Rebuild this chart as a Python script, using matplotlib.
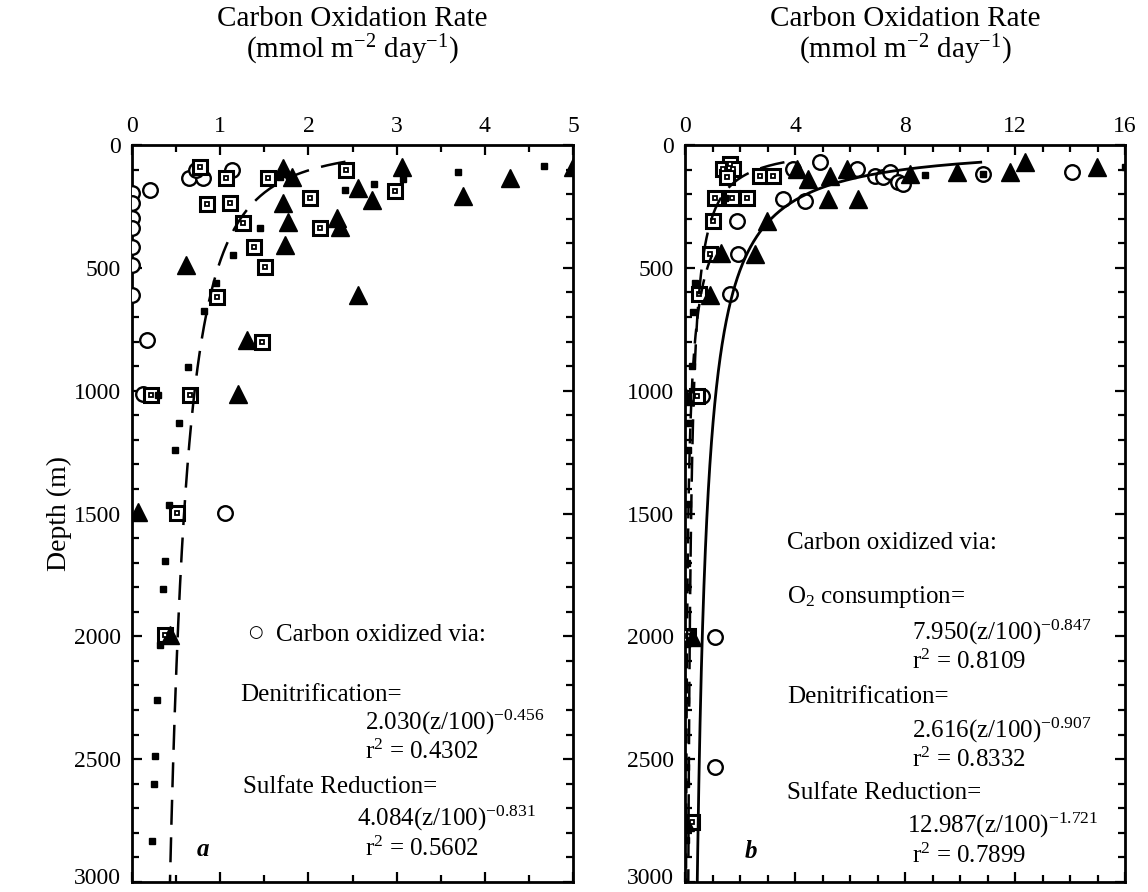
import numpy as np
import matplotlib
matplotlib.use("Agg")
import matplotlib.pyplot as plt
from matplotlib.ticker import MultipleLocator
from matplotlib.transforms import ScaledTranslation

plt.rcParams['font.family'] = ['Liberation Serif', 'DejaVu Serif']
plt.rcParams['mathtext.fontset'] = 'custom'
plt.rcParams['mathtext.rm'] = 'Liberation Serif'
plt.rcParams['mathtext.it'] = 'Liberation Serif:italic'
plt.rcParams['mathtext.bf'] = 'Liberation Serif:bold'

# ---------------- Panel a data ----------------
a_circ_x = [0, 0, 0, 0, 0, 0, 0, 0.2, 0.65, 0.80, 0.72, 1.13, 0.17, 0.12, 1.05]
a_circ_z = [195, 236, 297, 338, 415, 488, 610, 183, 135, 135, 100, 100, 794, 1013, 1499]

a_box_x = [0.77, 1.07, 1.54, 2.43, 2.98, 0.85, 1.11, 1.26, 2.02, 2.13, 1.38, 1.51, 0.96, 1.47, 0.66, 0.22, 0.51, 0.37]
a_box_z = [90, 135, 135, 102, 187, 240, 236, 317, 216, 338, 415, 496, 619, 800, 1018, 1018, 1498, 1995]

a_tri_x = [1.71, 1.81, 3.06, 4.29, 5.0, 2.56, 2.72, 3.75, 1.71, 1.77, 2.32, 2.36, 1.73, 0.61, 2.56, 1.30, 1.20, 0.07, 0.43]
a_tri_z = [94, 130, 89, 134, 89, 175, 224, 208, 236, 313, 297, 334, 407, 488, 611, 794, 1013, 1494, 1995]

a_dot_x = [3.70, 4.67, 3.07, 2.74, 2.42, 1.68, 1.45, 1.15, 0.95, 0.82, 0.64, 0.30, 0.53, 0.49, 0.42, 0.37, 0.35, 0.32, 0.28, 0.26, 0.25, 0.23]
a_dot_z = [110, 85, 138, 159, 183, 130, 338, 448, 562, 675, 903, 1018, 1131, 1241, 1465, 1693, 1807, 2035, 2259, 2487, 2601, 2833]

# ---------------- Panel b data ----------------
b_circ_x = [3.93, 4.91, 6.25, 6.9, 7.2, 7.45, 7.75, 7.93, 10.84, 14.07, 3.56, 4.36, 1.89, 1.93, 1.64, 0.6, 1.09, 1.09]
b_circ_z = [98, 69, 98, 126, 130, 110, 151, 159, 118, 110, 220, 228, 310, 444, 607, 1023, 2002, 2532]

b_box_x = [1.64, 1.38, 1.75, 1.53, 2.73, 3.2, 1.09, 1.71, 2.25, 1.02, 0.91, 0.5, 0.45, 0.1, 0.25]
b_box_z = [77, 98, 98, 130, 126, 126, 216, 216, 216, 310, 444, 605, 1023, 2000, 2756]

b_tri_x = [4.07, 4.47, 5.27, 5.9, 8.18, 9.9, 11.8, 12.36, 14.98, 5.2, 6.29, 2.98, 2.55, 1.3, 0.9, 0.0, 0.25, 0.0]
b_tri_z = [98, 139, 126, 98, 118, 110, 110, 69, 90, 220, 220, 310, 444, 440, 612, 1023, 2002, 2756]

b_dot_x = [8.73, 16.0, 10.84, 1.45, 0.35, 0.3, 0.25, 0.15, 0.12, 0.1, 0.08, 0.07, 0.06, 0.05, 0.05, 0.04, 0.04]
b_dot_z = [122, 90, 118, 216, 560, 680, 900, 1130, 1240, 1460, 1700, 1800, 2030, 2260, 2532, 2600, 2830]

# fitted power laws  rate = A (z/100)^B
a_denit = (2.030, -0.456)
b_o2 = (7.950, -0.847)
b_denit = (2.616, -0.907)
b_sulf = (12.987, -1.721)

fig = plt.figure(figsize=(11.48, 8.92), dpi=100)
axa = fig.add_axes([132/1148, 1-882/892, 441/1148, 737/892])
axb = fig.add_axes([685/1148, 1-882/892, 440/1148, 737/892])

def style(ax, xmax, xmajor, xminor):
    ax.set_xlim(0, xmax)
    ax.set_ylim(3000, 0)
    ax.xaxis.set_major_locator(MultipleLocator(xmajor))
    ax.xaxis.set_minor_locator(MultipleLocator(xminor))
    ax.yaxis.set_major_locator(MultipleLocator(500))
    ax.yaxis.set_minor_locator(MultipleLocator(100))
    ax.tick_params(which='both', direction='in', top=True, bottom=True, left=True, right=True,
                   labeltop=True, labelbottom=False, labelleft=True, labelright=False,
                   width=1.6, labelsize=17)
    ax.tick_params(axis='x', pad=6)
    ax.tick_params(axis='y', pad=8)
    ax.tick_params(which='major', length=7)
    ax.tick_params(which='minor', length=5)
    for s in ax.spines.values():
        s.set_linewidth(2)

def markers(ax, cx, cz, bx, bz, tx, tz, dx, dz):
    ax.plot(cx, cz, 'o', ms=10.5, mfc='white', mec='black', mew=1.7, ls='none', zorder=3)
    ax.plot(bx, bz, 's', ms=9.5, mfc='white', mec='black', mew=2.2, ls='none', zorder=4)
    ax.plot(bx, bz, 's', ms=3.5, mfc='white', mec='black', mew=1.3, ls='none', zorder=5)
    ax.plot(tx, tz, '^', ms=13, mfc='black', mec='black', ls='none', zorder=4)
    ax.plot(dx, dz, 's', ms=3.8, mfc='black', mec='black', ls='none', zorder=5)

style(axa, 5, 1, 0.5)
style(axb, 16, 4, 1)

markers(axa, a_circ_x, a_circ_z, a_box_x, a_box_z, a_tri_x, a_tri_z, a_dot_x, a_dot_z)
markers(axb, b_circ_x, b_circ_z, b_box_x, b_box_z, b_tri_x, b_tri_z, b_dot_x, b_dot_z)

z1 = np.linspace(68, 3000, 400)
axa.plot(a_denit[0]*(z1/100)**a_denit[1], z1, color='black', lw=1.8, dashes=(10, 5), zorder=6)

z2 = np.linspace(70, 3000, 400)
axb.plot(b_o2[0]*(z2/100)**b_o2[1], z2, color='black', lw=2.0, zorder=6)
axb.plot(b_denit[0]*(z2/100)**b_denit[1], z2, color='black', lw=1.8, dashes=(10, 5), zorder=6)
z3 = np.linspace(450, 3000, 300)
axb.plot(b_sulf[0]*(z3/100)**b_sulf[1], z3, color='black', lw=1.8, dashes=(6, 4), zorder=6)

# lift the bottom "3000" labels slightly so they stay inside the figure
fig.canvas.draw()
for ax in (axa, axb):
    for tk in ax.yaxis.get_major_ticks():
        if abs(tk.get_loc() - 3000) < 1:
            lab = tk.label1
            lab.set_transform(lab.get_transform() + ScaledTranslation(0, 4/72, fig.dpi_scale_trans))

# titles
for cx in [(132+573)/2/1148, (685+1125)/2/1148]:
    fig.text(cx, 1-19/892, "Carbon Oxidation Rate", ha='center', va='center', fontsize=21)
    fig.text(cx, 1-50/892, "(mmol m$^{-2}$ day$^{-1}$)", ha='center', va='center', fontsize=21)

axa.set_ylabel("Depth (m)", fontsize=20)
axa.yaxis.set_label_coords((72-132)/441, 0.5)

fs = 18
def t(ax, x, y, s, **kw):
    ax.text(x, y, s, transform=ax.transAxes, fontsize=fs, va='center', ha='left', **kw)

def fx(px, l, r):
    return (px - l) / (r - l)
def fy(py):
    return (882 - py) / 737

# panel a texts
L, R = 132, 573
axa.text(fx(255, L, R), fy(632), "○", transform=axa.transAxes, fontsize=12, va='center', ha='center',
         family=['DejaVu Sans'])
t(axa, fx(276, L, R), fy(635), "Carbon oxidized via:")
t(axa, fx(240, L, R), fy(695), "Denitrification=")
t(axa, fx(365, L, R), fy(722), "2.030(z/100)$^{\\mathregular{-0.456}}$")
t(axa, fx(365, L, R), fy(752), "r$^{\\mathregular{2}}$ = 0.4302")
t(axa, fx(243, L, R), fy(787), "Sulfate Reduction=")
t(axa, fx(357, L, R), fy(818), "4.084(z/100)$^{\\mathregular{-0.831}}$")
t(axa, fx(365, L, R), fy(849), "r$^{\\mathregular{2}}$ = 0.5602")
t(axa, fx(197, L, R), fy(849), "a", fontweight='bold', fontstyle='italic')

# panel b texts
L, R = 685, 1125
t(axb, fx(787, L, R), fy(543), "Carbon oxidized via:")
t(axb, fx(787, L, R), fy(597), "O$_{\\mathregular{2}}$ consumption=")
t(axb, fx(912, L, R), fy(632), "7.950(z/100)$^{\\mathregular{-0.847}}$")
t(axb, fx(912, L, R), fy(662), "r$^{\\mathregular{2}}$ = 0.8109")
t(axb, fx(787, L, R), fy(697), "Denitrification=")
t(axb, fx(912, L, R), fy(730), "2.616(z/100)$^{\\mathregular{-0.907}}$")
t(axb, fx(912, L, R), fy(760), "r$^{\\mathregular{2}}$ = 0.8332")
t(axb, fx(787, L, R), fy(793), "Sulfate Reduction=")
t(axb, fx(907, L, R), fy(825), "12.987(z/100)$^{\\mathregular{-1.721}}$")
t(axb, fx(912, L, R), fy(856), "r$^{\\mathregular{2}}$ = 0.7899")
t(axb, fx(745, L, R), fy(852), "b", fontweight='bold', fontstyle='italic')

fig.savefig("out.png", dpi=100)
